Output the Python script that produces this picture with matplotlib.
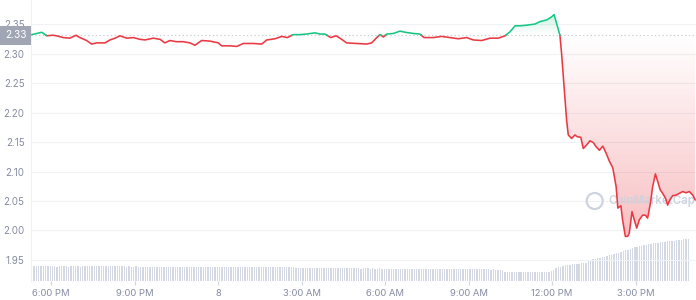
import numpy as np
import matplotlib
matplotlib.use("Agg")
import matplotlib.pyplot as plt
from matplotlib.path import Path
from matplotlib.patches import Circle
from matplotlib.transforms import blended_transform_factory

plt.rcParams['font.family'] = ['Inter', 'DejaVu Sans']

# ---------------- data ----------------
# time in hours relative to 6:00 PM (day 7)
hours = [-0.69, -0.33, -0.15, 0.07, 0.20, 0.44, 0.68, 0.90, 1.04, 1.28, 1.46, 1.64, 1.94,
         2.12, 2.30, 2.48, 2.72, 2.96, 3.20, 3.38, 3.67, 3.92, 4.09, 4.27, 4.51, 4.75,
         4.99, 5.17, 5.41, 5.71, 6.01, 6.13, 6.43, 6.67, 6.91, 7.27, 7.57, 7.75, 8.05,
         8.29, 8.49, 8.70, 8.94, 9.18, 9.48, 9.66, 9.84, 10.05, 10.24, 10.38, 10.62,
         10.98, 11.34, 11.52, 11.70, 11.82, 11.94, 12.06, 12.30, 12.54, 12.72, 13.01,
         13.25, 13.40, 13.73, 14.03, 14.33, 14.63, 14.93, 15.17, 15.47, 15.77, 16.07,
         16.31, 16.49, 16.67, 16.85, 17.09, 17.39, 17.56, 17.81, 17.98, 18.07, 18.16,
         18.28, 18.34, 18.43, 18.52, 18.58, 18.70, 18.82, 18.90, 19.03, 19.12, 19.24,
         19.36, 19.48, 19.58, 19.70, 19.82, 19.94, 20.06, 20.18, 20.30, 20.36, 20.47,
         20.53, 20.63, 20.71, 20.77, 20.87, 20.95, 21.04, 21.13, 21.25, 21.35, 21.43,
         21.53, 21.61, 21.71, 21.79, 21.88, 21.97, 22.07, 22.15, 22.23, 22.33, 22.45,
         22.57, 22.69, 22.81, 22.93, 23.05, 23.14]
prices = [2.332, 2.336, 2.330, 2.331, 2.330, 2.327, 2.326, 2.331, 2.327, 2.322, 2.316, 2.318, 2.318,
          2.323, 2.326, 2.330, 2.326, 2.327, 2.324, 2.323, 2.326, 2.324, 2.318, 2.322, 2.320, 2.320,
          2.318, 2.314, 2.322, 2.321, 2.318, 2.313, 2.313, 2.312, 2.317, 2.317, 2.316, 2.323, 2.325,
          2.329, 2.327, 2.332, 2.332, 2.333, 2.335, 2.333, 2.333, 2.327, 2.330, 2.326, 2.318,
          2.317, 2.316, 2.318, 2.327, 2.332, 2.328, 2.333, 2.334, 2.338, 2.336, 2.334,
          2.333, 2.327, 2.327, 2.329, 2.327, 2.325, 2.327, 2.323, 2.322, 2.326, 2.326,
          2.330, 2.337, 2.347, 2.347, 2.348, 2.350, 2.354, 2.357, 2.362, 2.366, 2.351,
          2.331, 2.300, 2.244, 2.187, 2.162, 2.156, 2.162, 2.159, 2.158, 2.139, 2.145,
          2.152, 2.149, 2.142, 2.136, 2.143, 2.131, 2.117, 2.106, 2.074, 2.038, 2.042,
          2.018, 1.990, 1.990, 1.995, 2.032, 2.018, 2.004, 2.018, 2.026, 2.026, 2.021,
          2.046, 2.074, 2.096, 2.083, 2.069, 2.063, 2.055, 2.043, 2.052, 2.059, 2.060,
          2.063, 2.066, 2.064, 2.066, 2.060, 2.052]
open_price = 2.331

# volume, one bar per 5 minutes, starting at the first price time
vol_start = -0.72
volumes = [
    14.6, 14.8, 14.9, 14.7, 14.8, 14.6, 14.8, 14.9, 14.7, 14.8, 14.6, 14.5,
    14.7, 14.6, 14.8, 14.7, 14.5, 14.6, 14.7, 14.8, 14.6, 14.5, 14.7, 14.6,
    14.6, 14.7, 14.9, 15.0, 14.8, 14.9, 15.0, 14.9, 14.8, 14.9, 15.0, 14.8,
    14.9, 14.7, 14.8, 14.6, 14.7, 14.5, 14.6, 14.4, 14.5, 14.6, 14.4, 14.3,
    14.2, 14.4, 14.3, 14.1, 14.2, 14.3, 14.2, 14.0, 14.1, 14.2, 14.0, 14.1,
    14.0, 13.9, 14.1, 14.0, 13.8, 13.9, 14.0, 13.8, 13.9, 13.7, 13.8, 13.9,
    13.8, 13.9, 13.7, 13.8, 13.9, 14.0, 13.8, 13.9, 14.0, 14.1, 13.9, 14.0,
    14.0, 14.1, 14.2, 14.0, 14.1, 14.2, 14.3, 14.1, 14.2, 14.0, 14.1, 14.2,
    14.2, 14.3, 14.1, 14.2, 14.3, 14.2, 14.1, 14.2, 14.3, 14.4, 14.2, 14.3,
    14.3, 14.2, 14.4, 14.3, 14.2, 14.0, 13.2, 13.0, 13.1, 12.9, 13.0, 13.1,
    13.0, 12.9, 13.1, 12.8, 12.9, 13.0, 12.8, 12.9, 12.7, 12.8, 12.9, 12.7,
    12.8, 12.7, 12.9, 12.6, 12.8, 12.7, 12.6, 12.8, 12.7, 12.6, 12.5, 12.7,
    12.6, 12.7, 12.5, 12.6, 12.4, 12.5, 12.6, 12.4, 12.5, 12.3, 12.4, 12.5,
    12.4, 12.3, 12.5, 12.4, 12.3, 12.2, 12.4, 12.3, 12.2, 12.3, 12.1, 12.2,
    12.2, 12.1, 12.3, 12.2, 12.0, 12.1, 12.2, 12.0, 12.1, 11.9, 12.0, 12.1,
    12.0, 11.9, 12.1, 12.0, 11.8, 11.9, 12.0, 11.8, 11.9, 11.7, 11.8, 11.9,
    11.8, 11.7, 11.9, 11.8, 11.7, 11.6, 11.5, 11.6, 11.4, 11.5, 11.3, 11.4,
    9.4, 9.3, 9.2, 9.3, 9.1, 9.2, 9.0, 9.1, 9.0, 8.9, 9.0, 9.1,
    9.0, 8.9, 9.0, 8.8, 8.9, 9.0, 8.9, 9.0, 10.0, 11.5, 12.8, 13.8,
    14.5, 15.2, 15.6, 16.0, 16.3, 16.6, 16.9, 17.1, 17.4, 17.7, 18.0, 18.4,
    20.5, 21.0, 21.6, 22.2, 22.7, 23.3, 23.9, 24.5, 25.2, 25.8, 26.5, 27.2,
    27.6, 28.3, 29.0, 29.8, 30.6, 31.4, 32.2, 33.0, 33.7, 34.3, 34.9, 35.4,
    35.9, 36.3, 36.8, 37.2, 37.6, 38.0, 38.4, 38.7, 39.0, 39.3, 39.6, 39.9,
    40.2, 40.5, 40.8, 41.1, 41.4, 41.7, 42.0, 42.3,
]

tick_hours = [0, 3, 6, 9, 12, 15, 18, 21]
tick_labels = ['6:00 PM', '9:00 PM', '8', '3:00 AM', '6:00 AM', '9:00 AM', '12:00 PM', '3:00 PM']
price_ticks = [1.95, 2.00, 2.05, 2.10, 2.15, 2.20, 2.25, 2.30, 2.35]

RED = '#ea3943'
GREEN = '#16c784'
TXT = '#858ca2'
GRID = '#eff2f5'

# ---------------- figure ----------------
W, H = 696, 300
fig = plt.figure(figsize=(W / 100, H / 100), dpi=100)
rect = [31 / W, 19 / H, 665 / W, 281 / H]
xlim = (-0.718, 23.168)

axv = fig.add_axes(rect)
ax = fig.add_axes(rect)
ax.patch.set_visible(False)

# volume bars
step = 1 / 12
vt = vol_start + step * np.arange(len(volumes))
axv.bar(vt, volumes, width=step * 0.58, align='edge', color='#d3d8e3', linewidth=0)
axv.set_xlim(*xlim)
axv.set_ylim(0, 281)
axv.axis('off')

# price line with crossings at open price
x = np.asarray(hours, float)
y = np.asarray(prices, float)
xs, ys = [x[0]], [y[0]]
for i in range(1, len(x)):
    y0, y1 = y[i - 1], y[i]
    if (y0 - open_price) * (y1 - open_price) < 0:
        t = (open_price - y0) / (y1 - y0)
        xs.append(x[i - 1] + t * (x[i] - x[i - 1]))
        ys.append(open_price)
    xs.append(x[i]); ys.append(y[i])
xs = np.array(xs); ys = np.array(ys)

ax.set_xlim(*xlim)
ax.set_ylim(1.9144, 2.3907)

# gradient fills
def grad_fill(lower, upper, color, a_top, a_bot, y_lo, y_hi):
    poly = ax.fill_between(xs, lower, upper, color='none', linewidth=0)
    paths = poly.get_paths()
    if not paths:
        return
    path = Path.make_compound_path(*paths)
    rgb = matplotlib.colors.to_rgb(color)
    n = 256
    img = np.zeros((n, 2, 4))
    img[..., :3] = rgb
    alphas = np.linspace(a_bot, a_top, n)
    img[..., 3] = alphas[:, None]
    im = ax.imshow(img, extent=[xlim[0], xlim[1], y_lo, y_hi], origin='lower',
                   aspect='auto', zorder=1, interpolation='bilinear')
    im.set_clip_path(path, transform=ax.transData)

grad_fill(np.minimum(ys, open_price), open_price, RED, 0.0, 0.32, ys.min(), open_price)
grad_fill(open_price, np.maximum(ys, open_price), GREEN, 0.22, 0.0, open_price, ys.max())
ax.set_xlim(*xlim)
ax.set_ylim(1.9144, 2.3907)

# watermark (under the price line; placed in inches so the circle stays round)
wm = '#cdd3df'
ax.add_patch(Circle((5.947, 0.99), 0.08, transform=fig.dpi_scale_trans,
                    fill=False, ec=wm, lw=1.6, zorder=1.5, clip_on=False))
ax.text(608 / W, 1 - 201 / H, 'CoinMarketCap', transform=fig.transFigure, fontsize=8.3,
        color=wm, ha='left', va='center', fontweight='semibold', zorder=1.5)

up = np.ma.masked_where(ys < open_price, ys)
dn = np.ma.masked_where(ys > open_price, ys)
ax.plot(xs, dn, color=RED, lw=1.15, zorder=3, solid_joinstyle='round')
ax.plot(xs, up, color=GREEN, lw=1.15, zorder=3, solid_joinstyle='round')

# open price dotted line
ax.axhline(open_price, color='#c8ccd4', lw=0.8, ls=(0, (1.2, 2.2)), zorder=2)

# axes styling
ax.set_yticks(price_ticks)
ax.set_yticklabels([f'{v:.2f}' for v in price_ticks])
ax.yaxis.grid(True, color=GRID, lw=0.8)
ax.set_axisbelow(True)
ax.set_xticks(tick_hours)
ax.set_xticklabels(tick_labels)
ax.tick_params(axis='y', length=0, pad=4.5, labelsize=7, labelcolor=TXT)
ax.tick_params(axis='x', length=3, width=0.8, color='#cfd4de', pad=2.5, labelsize=6.8, labelcolor=TXT)
for s in ['top', 'right', 'bottom']:
    ax.spines[s].set_visible(False)
ax.spines['left'].set_color(GRID)
ax.spines['left'].set_linewidth(0.8)

# current open label box
tr = blended_transform_factory(fig.transFigure, ax.transData)
ax.text(15.5 / W, open_price, f'{open_price:.2f}', transform=tr, ha='center', va='center',
        fontsize=7.3, color='white', zorder=5,
        bbox=dict(boxstyle='square,pad=0.45', fc='#a0a6b3', ec='none'))

fig.savefig('out.png', dpi=100)
